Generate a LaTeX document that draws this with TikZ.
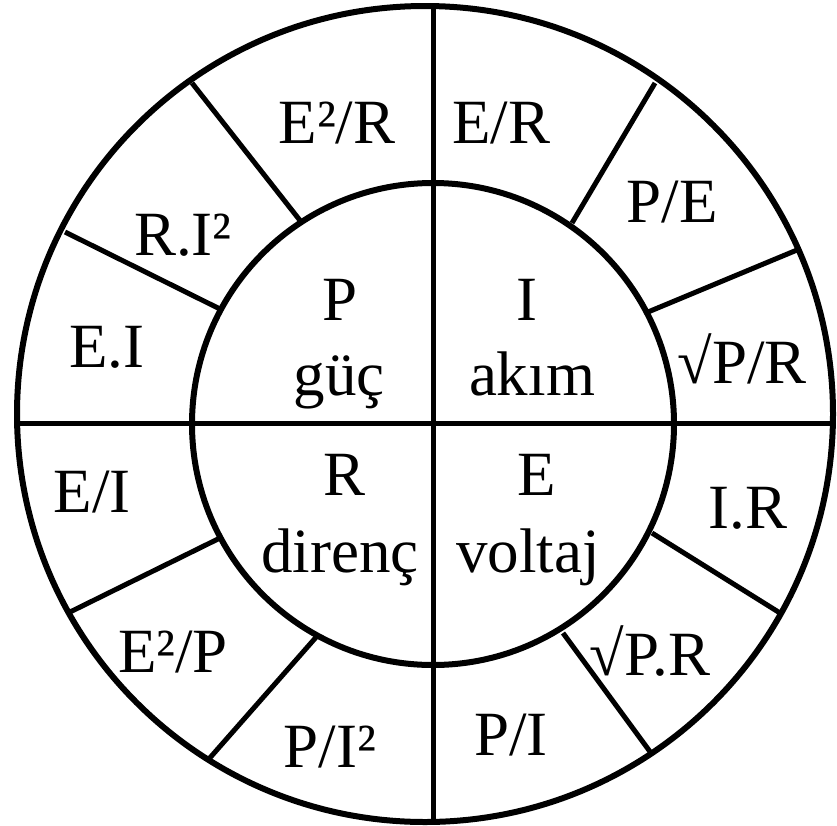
\documentclass[tikz,border=0pt]{standalone}
\usepackage{fontspec}
\setmainfont{Liberation Serif}
\begin{document}
\begin{tikzpicture}[x=1pt,y=-1pt,
  ring/.style={line width=6pt},
  spoke/.style={line width=5pt},
  lab/.style={anchor=base,inner sep=0pt,font=\fontsize{63}{75}\selectfont}]
\useasboundingbox (0,0) rectangle (837,825);
% circles
\coordinate (oc) at (425,414);
\coordinate (ic) at (433,424);
\draw[ring] (oc) circle[radius=408];
\draw[ring] (ic) circle[radius=241];
% axes
\coordinate (top) at (433,6);
\coordinate (bot) at (433,822);
\coordinate (lft) at (17,423);
\coordinate (rgt) at (832,423);
\draw[spoke] (top) -- (bot);
\draw[spoke] (lft) -- (rgt);
% spokes
\coordinate (a1) at (302,223); \coordinate (b1) at (192,83);
\coordinate (a2) at (222,310); \coordinate (b2) at (65,232);
\coordinate (a3) at (220,538); \coordinate (b3) at (68,613);
\coordinate (a4) at (318,635); \coordinate (b4) at (208,760);
\coordinate (a5) at (563,633); \coordinate (b5) at (651,753);
\coordinate (a6) at (652,533); \coordinate (b6) at (780,613);
\coordinate (a7) at (648,312); \coordinate (b7) at (797,250);
\coordinate (a8) at (572,223); \coordinate (b8) at (655,83);
\foreach \i in {1,...,8} \draw[spoke] (a\i) -- (b\i);
% outer labels
\node[lab] (l1) at (337,143) {E²/R};
\node[lab] (l2) at (501,143) {E/R};
\node[lab] (l3) at (672,222) {P/E};
\node[lab] (l4) at (742,383) {√P/R};
\node[lab] (l5) at (748,528) {I.R};
\node[lab] (l6) at (650,675) {√P.R};
\node[lab] (l7) at (511,755) {P/I};
\node[lab] (l8) at (330,767) {P/I²};
\node[lab] (l9) at (173,672) {E²/P};
\node[lab] (l10) at (92,512) {E/I};
\node[lab] (l11) at (107,367) {E.I};
\node[lab] (l12) at (183,255) {R.I²};
% inner labels
\node[lab] (p) at (340,320) {P};
\node[lab] (pg) at (339,395) {güç};
\node[lab] (i) at (527,320) {I};
\node[lab] (ia) at (532,395) {akım};
\node[lab] (r) at (345,495) {R};
\node[lab] (rd) at (340,572) {direnç};
\node[lab] (e) at (537,495) {E};
\node[lab] (ev) at (528,572) {voltaj};
\end{tikzpicture}
\end{document}
